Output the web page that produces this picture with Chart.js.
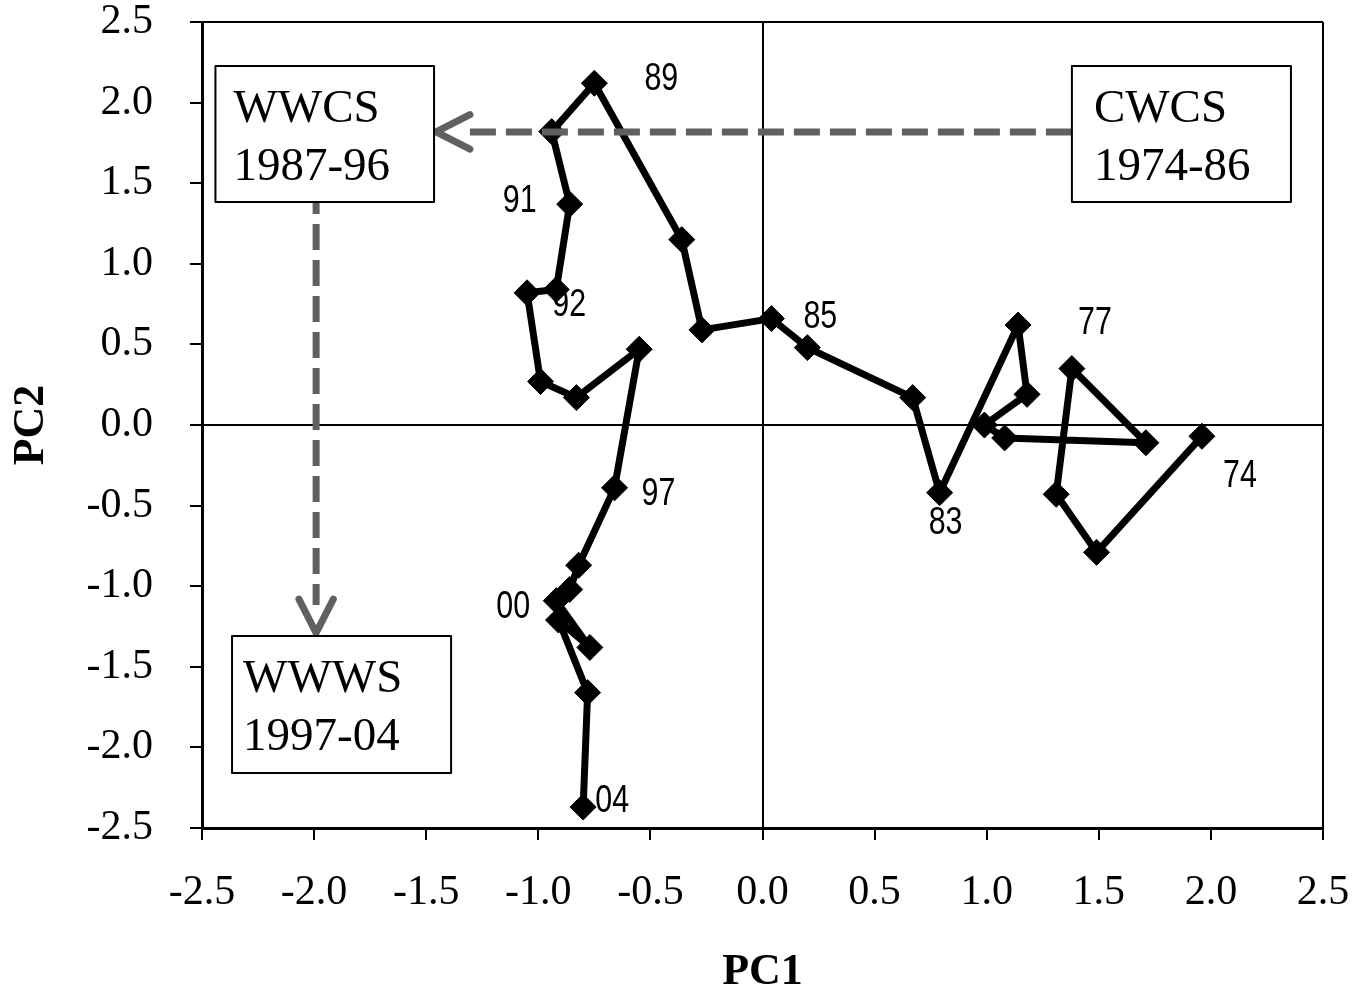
<!DOCTYPE html>
<html lang="en">
  <head>
    <meta charset="UTF-8">
    <title>PC1 / PC2 trajectory</title>
    <script src="https://cdn.jsdelivr.net/npm/chart.js@4"></script>
    <style>
      html, body { margin: 0; background: #fff; }
      #wrap { width: 1353px; height: 995px; }
    </style>
  </head>
  <body>
    <div id="wrap"><canvas id="chart"></canvas></div>
    <script type="text/javascript">
      // one point per year, 1974 -> 2004
      const years = ['74','75','76','77','78','79','80','81','82','83','84','85','86','87','88','89',
                     '90','91','92','93','94','95','96','97','98','99','00','01','02','03','04']
      const pc1 = [1.96, 1.49, 1.31, 1.38, 1.71, 1.08, 0.99, 1.18, 1.14, 0.79, 0.67, 0.20, 0.04, -0.27, -0.36, -0.75,
                   -0.94, -0.86, -0.92, -1.05, -0.99, -0.83, -0.55, -0.66, -0.82, -0.86, -0.92, -0.77, -0.91, -0.78, -0.80]
      const pc2 = [-0.07, -0.79, -0.43, 0.35, -0.11, -0.08, 0.00, 0.19, 0.62, -0.42, 0.17, 0.48, 0.66, 0.59, 1.15, 2.12,
                   1.82, 1.37, 0.84, 0.82, 0.27, 0.17, 0.47, -0.39, -0.87, -1.02, -1.09, -1.38, -1.21, -1.66, -2.37]
      const shownYears = ['74','77','83','85','89','91','92','97','00','04']

      // where each year label sits relative to its marker (px)
      const labelOffsets = {
        '74': [38, 40], '77': [23, -45], '83': [6, 31], '85': [13, -30], '89': [67, -4],
        '91': [-50, -3], '92': [13, 16], '97': [44, 7], '00': [-43, 7], '04': [29, -6]
      }

      const regimes = [
        { lines: ['WWCS', '1987-96'], x0: -2.44, x1: -1.465, y0: 2.227, y1: 1.383, inset: 18 },
        { lines: ['CWCS', '1974-86'], x0: 1.38, x1: 2.357, y0: 2.227, y1: 1.383, inset: 22 },
        { lines: ['WWWS', '1997-04'], x0: -2.366, x1: -1.389, y0: -1.309, y1: -2.159, inset: 11 }
      ]
      const shifts = [
        { from: [1.38, 1.818], to: [-1.456, 1.818] },
        { from: [-1.991, 1.47], to: [-1.991, -1.29] }
      ]

      const serif = "'Liberation Serif', 'Times New Roman', serif"
      const sans = "'Liberation Sans', Arial, sans-serif"

      const isEdgeOrZero = v => Math.abs(v) < 1e-6 || Math.abs(Math.abs(v) - 2.5) < 1e-6
      const gridColor = ctx => (ctx.tick && isEdgeOrZero(ctx.tick.value)) ? '#000' : 'rgba(0,0,0,0)'

      const notes = {
        id: 'notes',
        afterDatasetsDraw(chart) {
          const { ctx, scales: { x, y } } = chart
          ctx.save()

          // dashed regime-shift arrows
          ctx.strokeStyle = '#606060'
          ctx.lineWidth = 7
          shifts.forEach(a => {
            const x0 = x.getPixelForValue(a.from[0]), y0 = y.getPixelForValue(a.from[1])
            const x1 = x.getPixelForValue(a.to[0]), y1 = y.getPixelForValue(a.to[1])
            const ang = Math.atan2(y1 - y0, x1 - x0)
            ctx.setLineDash([26, 10])
            ctx.lineCap = 'butt'
            ctx.beginPath()
            ctx.moveTo(x0, y0)
            ctx.lineTo(x1 - 28 * Math.cos(ang), y1 - 28 * Math.sin(ang))
            ctx.stroke()
            ctx.setLineDash([])
            ctx.lineCap = 'round'
            ctx.lineJoin = 'round'
            ctx.beginPath()
            ctx.moveTo(x1 - 38 * Math.cos(ang - 0.47), y1 - 38 * Math.sin(ang - 0.47))
            ctx.lineTo(x1, y1)
            ctx.lineTo(x1 - 38 * Math.cos(ang + 0.47), y1 - 38 * Math.sin(ang + 0.47))
            ctx.stroke()
          })

          // regime boxes
          ctx.lineWidth = 2
          ctx.strokeStyle = '#000'
          ctx.font = '47px ' + serif
          ctx.textAlign = 'left'
          ctx.textBaseline = 'alphabetic'
          regimes.forEach(b => {
            const l = x.getPixelForValue(b.x0), r = x.getPixelForValue(b.x1)
            const t = y.getPixelForValue(b.y0), bt = y.getPixelForValue(b.y1)
            ctx.fillStyle = '#fff'
            ctx.fillRect(l, t, r - l, bt - t)
            ctx.strokeRect(l, t, r - l, bt - t)
            ctx.fillStyle = '#000'
            ctx.fillText(b.lines[0], l + b.inset, t + 56)
            ctx.fillText(b.lines[1], l + b.inset, t + 114)
          })

          // year labels, narrow face
          ctx.font = '38px ' + sans
          ctx.textAlign = 'center'
          ctx.textBaseline = 'middle'
          ctx.fillStyle = '#000'
          years.forEach((yr, i) => {
            if (!shownYears.includes(yr)) return
            const off = labelOffsets[yr]
            const px = x.getPixelForValue(pc1[i]) + off[0]
            const py = y.getPixelForValue(pc2[i]) + off[1]
            ctx.save()
            ctx.translate(px, py)
            ctx.scale(0.8, 1)
            ctx.fillText(yr, 0, 0)
            ctx.restore()
          })
          ctx.restore()
        }
      }

      const ctx = document.getElementById('chart').getContext('2d')
      const chart = new Chart(ctx, {
        type: 'scatter',
        data: {
          datasets: [{
            label: 'PC scores',
            data: years.map((yr, i) => ({ x: pc1[i], y: pc2[i] })),
            showLine: true,
            tension: 0,
            borderColor: '#000',
            borderWidth: 7,
            borderJoinStyle: 'round',
            pointStyle: 'rectRot',
            pointRadius: 13,
            pointBackgroundColor: '#000',
            pointBorderColor: '#000',
            pointBorderWidth: 1
          }]
        },
        options: {
          responsive: true,
          maintainAspectRatio: false,
          animation: false,
          layout: { padding: { top: 22, right: 30, left: 0, bottom: 0 } },
          plugins: { legend: { display: false }, tooltip: { enabled: false } },
          scales: {
            x: {
              min: -2.5, max: 2.5,
              afterFit: s => { s.height = 167; s.paddingLeft = 0; s.paddingRight = 0 },
              border: { color: '#000', width: 3 },
              grid: { color: gridColor, lineWidth: 2, tickColor: '#000', tickWidth: 2, tickLength: 12 },
              ticks: { stepSize: 0.5, padding: 28, color: '#000', font: { family: serif, size: 42 },
                       maxRotation: 0, autoSkip: false, callback: v => v.toFixed(1) },
              title: { display: true, text: 'PC1', color: '#000', padding: { top: 0, bottom: 0 },
                       font: { family: serif, size: 44, weight: 'bold', lineHeight: 1 } }
            },
            y: {
              min: -2.5, max: 2.5,
              afterFit: s => { s.width = 202; s.paddingTop = 0; s.paddingBottom = 0 },
              border: { color: '#000', width: 3 },
              grid: { color: gridColor, lineWidth: 2, tickColor: '#000', tickWidth: 2, tickLength: 12 },
              ticks: { stepSize: 0.5, padding: 37, color: '#000', font: { family: serif, size: 42 },
                       autoSkip: false, callback: v => v.toFixed(1) },
              title: { display: true, text: 'PC2', color: '#000', padding: { top: 10, bottom: 0 },
                       font: { family: serif, size: 44, weight: 'bold', lineHeight: 1 } }
            }
          }
        },
        plugins: [notes]
      })
    </script>
  </body>
</html>
